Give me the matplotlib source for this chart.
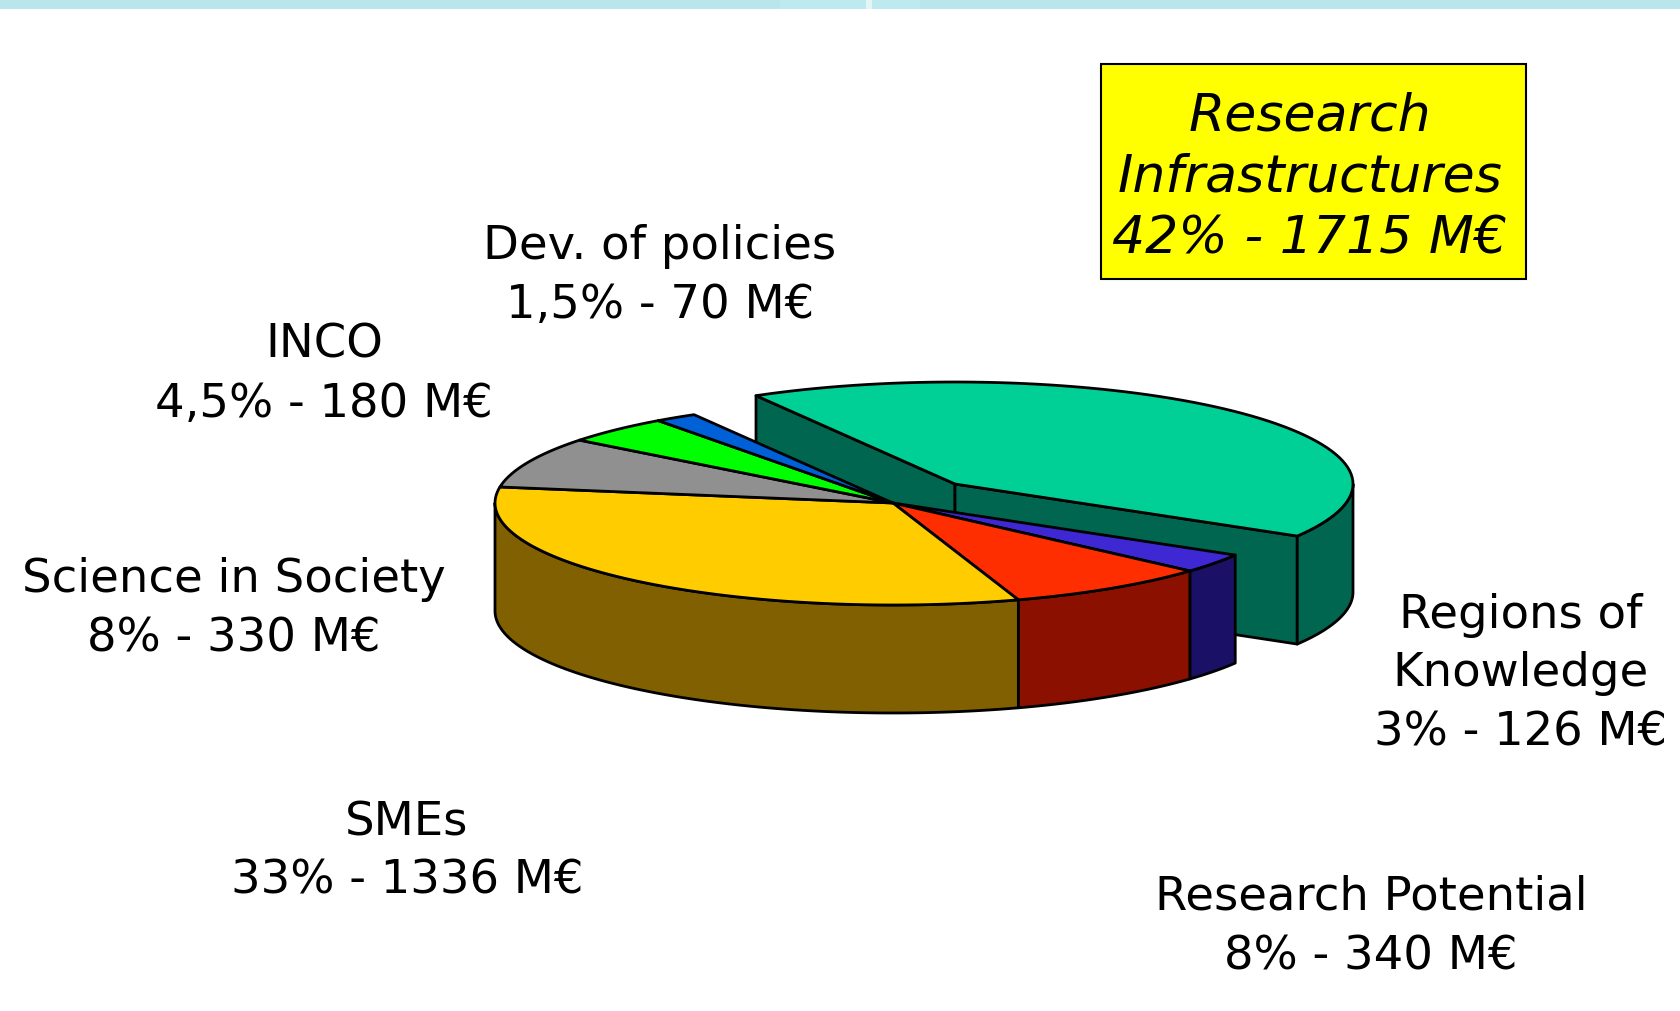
# plot.py
import numpy as np
import matplotlib
matplotlib.use('Agg')
import matplotlib.pyplot as plt
from matplotlib.patches import Rectangle

plt.rcParams['font.family'] = ['DejaVu Sans']

# slices, clockwise from the exploded one
names = ['Research Infrastructures', 'Regions of Knowledge', 'Research Potential',
         'SMEs', 'Science in Society', 'INCO', 'Dev. of policies']
meur = [1715, 126, 340, 1336, 330, 180, 70]
top_colors = ['#00D096', '#3D28D4', '#FF2E00', '#FFCC00', '#909090', '#00FF00', '#0060D8']
wall_colors = ['#006650', '#1A1066', '#8B1000', '#806000', '#606060', '#008000', '#003070']
label_text = ['Research\nInfrastructures\n42% - 1715 M€', 'Regions of\nKnowledge\n3% - 126 M€',
              'Research Potential\n8% - 340 M€', 'SMEs\n33% - 1336 M€',
              'Science in Society\n8% - 330 M€', 'INCO\n4,5% - 180 M€',
              'Dev. of policies\n1,5% - 70 M€']
label_x = [1310, 1521, 1371, 407, 234, 324, 660]
label_y = [178, 674, 927, 852, 609, 375, 276]

CX, CY = 893, 503
RX, RY = 398, 102
DEPTH = 108
EX_DX, EX_DY = 62, -19  # how far the big slice is pulled out
START = 120.0
LW = 2.0


def arc(a0, a1, cx, cy, dy=0):
    t = np.radians(np.linspace(a0, a1, 80))
    return cx + RX * np.cos(t), cy - RY * np.sin(t) + dy


def top(ax, a0, a1, cx, cy, color):
    x, y = arc(a0, a1, cx, cy)
    ax.fill(np.r_[cx, x], np.r_[cy, y], facecolor=color, edgecolor='black',
            lw=LW, joinstyle='round')


def wall(ax, a0, a1, cx, cy, color):
    x, y = arc(a0, a1, cx, cy)
    xb, yb = arc(a1, a0, cx, cy, DEPTH)
    ax.fill(np.r_[x, xb], np.r_[y, yb], facecolor=color, edgecolor='black',
            lw=LW, joinstyle='round')


def radial(ax, a, cx, cy, color):
    x, y = arc(a, a, cx, cy)
    ax.fill([cx, x[0], x[0], cx], [cy, y[0], y[0] + DEPTH, cy + DEPTH],
            facecolor=color, edgecolor='black', lw=LW, joinstyle='round')


fig = plt.figure(figsize=(16.81, 10.11), dpi=100)
ax = fig.add_axes([0, 0, 1, 1])
ax.set_xlim(0, 1681)
ax.set_ylim(1011, 0)
ax.axis('off')

# slide band at the very top
ax.add_patch(Rectangle((0, 0), 1681, 9, facecolor='#B8E6EC', edgecolor='none'))
ax.add_patch(Rectangle((780, 0), 140, 9, facecolor='#BEE9EE', edgecolor='none'))
ax.add_patch(Rectangle((866, 0), 6, 9, facecolor='#E2F6F6', edgecolor='none'))

sweeps = np.array(meur) / sum(meur) * 360
ends = START - np.cumsum(sweeps)
starts = np.r_[START, ends[:-1]]

# exploded slice goes behind the rest
ex, ey = CX + EX_DX, CY + EX_DY
radial(ax, starts[0], ex, ey, wall_colors[0])
radial(ax, ends[0], ex, ey, wall_colors[0])
wall(ax, ends[0], 0, ex, ey, wall_colors[0])
top(ax, starts[0], ends[0], ex, ey, top_colors[0])

# outer walls of the rest, only the part facing the viewer
for i in range(1, len(meur)):
    a0, a1 = starts[i], max(ends[i], -180)
    if a0 > -180:
        wall(ax, a0, a1, CX, CY, wall_colors[i])
for i in range(1, len(meur)):
    top(ax, starts[i], ends[i], CX, CY, top_colors[i])

# labels
for i, txt in enumerate(label_text):
    if i == 0:
        ax.add_patch(Rectangle((1101, 64), 425, 215, facecolor='#FFFF00',
                               edgecolor='black', lw=1.5))
        ax.text(label_x[i], label_y[i], txt, ha='center', va='center', fontsize=37.5,
                style='italic', color='black', linespacing=1.3)
    else:
        ax.text(label_x[i], label_y[i], txt, ha='center', va='center', fontsize=33.5,
                color='black', linespacing=1.4)

fig.savefig('out.png', dpi=100, facecolor='white')
plt.close(fig)
